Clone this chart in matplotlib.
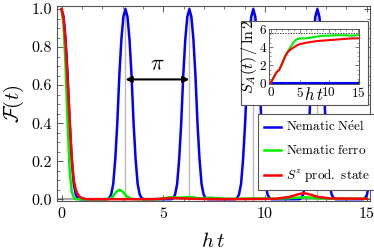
import numpy as np
import matplotlib
matplotlib.use("Agg")
import matplotlib.pyplot as plt
from matplotlib.patches import Rectangle
from matplotlib.ticker import MultipleLocator

plt.rcParams['font.family'] = ['cmr10', 'DejaVu Serif']
plt.rcParams['mathtext.fontset'] = 'cm'
plt.rcParams['axes.formatter.use_mathtext'] = True
plt.rcParams['axes.unicode_minus'] = False

# ---- data ----
# Nematic Neel: identical revival peaks at multiples of pi
peak_centers = [0.0, 3.14, 6.28, 9.42, 12.57, 15.71]
peak_offsets = [0.0, 0.1, 0.2, 0.3, 0.4, 0.5, 0.6, 0.7, 0.8, 0.9]
peak_values = [1.0, 0.96, 0.84, 0.65, 0.40, 0.21, 0.08, 0.025, 0.005, 0.0]

# Nematic ferro
t_ferro = [0.0, 0.1, 0.2, 0.3, 0.4, 0.5, 0.6, 0.7, 1.0, 2.3, 2.5, 2.7, 2.85, 3.0, 3.2,
           3.4, 3.6, 4.8, 5.3, 5.8, 6.3, 6.8, 7.3, 7.8, 8.5, 9.5, 10.5, 11.3, 12.0,
           12.7, 13.5, 14.3, 15.0]
F_ferro = [1.0, 0.92, 0.70, 0.40, 0.15, 0.04, 0.01, 0.0, 0.0, 0.0, 0.01, 0.04, 0.05, 0.04,
           0.015, 0.003, 0.0, 0.0, 0.01, 0.008, 0.012, 0.004, 0.008, 0.004, 0.002, 0.004,
           0.002, 0.006, 0.01, 0.004, 0.002, 0.003, 0.002]

# S^z product state
t_prod = [0.0, 0.1, 0.2, 0.3, 0.4, 0.5, 0.6, 0.7, 0.8, 0.9, 1.0, 1.2, 4.5, 5.5, 6.5,
          8.0, 10.5, 11.2, 11.6, 11.9, 12.2, 12.6, 13.2, 15.0]
F_prod = [1.0, 0.95, 0.82, 0.62, 0.42, 0.22, 0.10, 0.05, 0.025, 0.012, 0.006, 0.0, 0.0,
          0.006, 0.002, 0.0, 0.002, 0.012, 0.025, 0.032, 0.025, 0.012, 0.004, 0.002]

# inset: entanglement entropy S_A(t)/ln2
t_ent = [0, 0.5, 1, 1.5, 2, 2.5, 3, 3.5, 4, 4.5, 5, 6, 7, 8, 9, 10, 11, 12, 13, 14, 15]
S_ferro = [0, 0.6, 1.2, 1.5, 2.3, 3.0, 3.6, 4.1, 4.6, 4.9, 5.0, 5.0, 5.1, 5.2, 5.3, 5.3,
           5.35, 5.35, 5.35, 5.3, 5.35]
S_prod = [0, 0.6, 1.2, 1.5, 2.2, 3.0, 3.5, 3.8, 4.0, 4.2, 4.35, 4.5, 4.6, 4.7, 4.75, 4.8,
          4.85, 4.9, 4.95, 5.0, 5.0]
S_neel = [0] * len(t_ent)
S_page = 5.6

revival_times = [3.14, 6.28, 9.42, 12.57]

BLUE, GREEN, RED = '#0000ff', '#00ee00', '#ff0000'

# build the blue series from the peak profile
offs = np.array(peak_offsets)
prof = np.array(peak_values)
bt, bf = [], []
for c in peak_centers:
    bt.extend(list(c - offs[::-1]) + list(c + offs[1:]))
    bf.extend(list(prof[::-1]) + list(prof[1:]))
bt = np.array(bt)
bf = np.array(bf)
keep = bt >= 0
bt, bf = bt[keep], bf[keep]

fig = plt.figure(figsize=(3.74, 2.52), dpi=100)
ax = fig.add_axes([0.152, 0.202, 0.837, 0.774])

for tr in revival_times:
    ax.axvline(tr, color='#bbbbbb', lw=1.0, zorder=1)
ax.axhline(0, color='#aaaaaa', lw=1.5, zorder=1)

ax.plot(bt, bf, color=BLUE, lw=1.8, label=r'$\mathrm{Nematic\ N\acute{e}el}$', zorder=3)
ax.plot(t_ferro, F_ferro, color=GREEN, lw=1.8, label=r'$\mathrm{Nematic\ ferro}$', zorder=3)
ax.plot(t_prod, F_prod, color=RED, lw=1.8, label=r'$S^z\ \mathrm{prod.\ state}$', zorder=4)

ax.set_xlim(-0.23, 15.15)
ax.set_ylim(-0.01, 1.016)
ax.xaxis.set_major_locator(MultipleLocator(5))
ax.xaxis.set_minor_locator(MultipleLocator(1))
ax.yaxis.set_major_locator(MultipleLocator(0.2))
ax.yaxis.set_minor_locator(MultipleLocator(0.05))
ax.yaxis.set_major_formatter(plt.FuncFormatter(lambda v, p: f"{v:.1f}"))
ax.tick_params(which='both', direction='in', top=True, right=True, colors='#444444',
               labelcolor='black', labelsize=11.5)
ax.tick_params(which='major', length=4, width=0.6)
ax.tick_params(which='minor', length=2, width=0.5)
for s in ax.spines.values():
    s.set_color('#555555')
    s.set_linewidth(0.8)

ax.set_xlabel(r'$h\,t$', fontsize=15, labelpad=8)
ax.set_ylabel(r'$\mathcal{F}(t)$', fontsize=15, labelpad=4)

# pi arrow between two revivals
ax.annotate('', xy=(revival_times[0], 0.63), xytext=(revival_times[1], 0.63),
            arrowprops=dict(arrowstyle='<|-|>', color='black', lw=1.5,
                            mutation_scale=9, shrinkA=0, shrinkB=0), zorder=5)
ax.text((revival_times[0] + revival_times[1]) / 2, 0.66, r'$\pi$', fontsize=16,
        ha='center', va='bottom')

leg = ax.legend(loc='upper left', bbox_to_anchor=(0.642, 0.445), fontsize=9.5,
                frameon=True, fancybox=False, handlelength=1.3, handletextpad=0.4,
                labelspacing=0.75, borderpad=0.45, borderaxespad=0, framealpha=1)
leg.get_frame().set_edgecolor('#555555')
leg.get_frame().set_linewidth(0.8)
leg.set_zorder(6)

# inset background box
fig.patches.append(Rectangle((0.644, 0.583), 0.340, 0.334, transform=fig.transFigure,
                             facecolor='white', edgecolor='#555555', lw=0.8, zorder=5))

ins = fig.add_axes([0.719, 0.667, 0.241, 0.218])
ins.set_zorder(7)
ins.plot(t_ent, S_neel, color=BLUE, lw=1.5)
ins.plot(t_ent, S_ferro, color=GREEN, lw=1.5)
ins.plot(t_ent, S_prod, color=RED, lw=1.5)
ins.axhline(S_page, color='#444444', lw=0.7, ls=(0, (1.5, 1.2)))
ins.set_xlim(-0.3, 15.2)
ins.set_ylim(-0.1, 6.05)
ins.xaxis.set_major_locator(MultipleLocator(5))
ins.xaxis.set_minor_locator(MultipleLocator(1))
ins.yaxis.set_major_locator(MultipleLocator(2))
ins.yaxis.set_minor_locator(MultipleLocator(0.5))
ins.tick_params(which='both', direction='in', top=True, right=True, colors='#444444',
                labelcolor='black', labelsize=9.5, pad=1.5)
ins.tick_params(which='major', length=3, width=0.5)
ins.tick_params(which='minor', length=1.5, width=0.4)
for s in ins.spines.values():
    s.set_color('#555555')
    s.set_linewidth(0.7)
ins.set_xlabel(r'$h\,t$', fontsize=12, labelpad=-10)
ins.set_ylabel(r'$S_A(t)\,/\,\ln 2$', fontsize=11.5, labelpad=0)

fig.savefig('out.png', dpi=100)
